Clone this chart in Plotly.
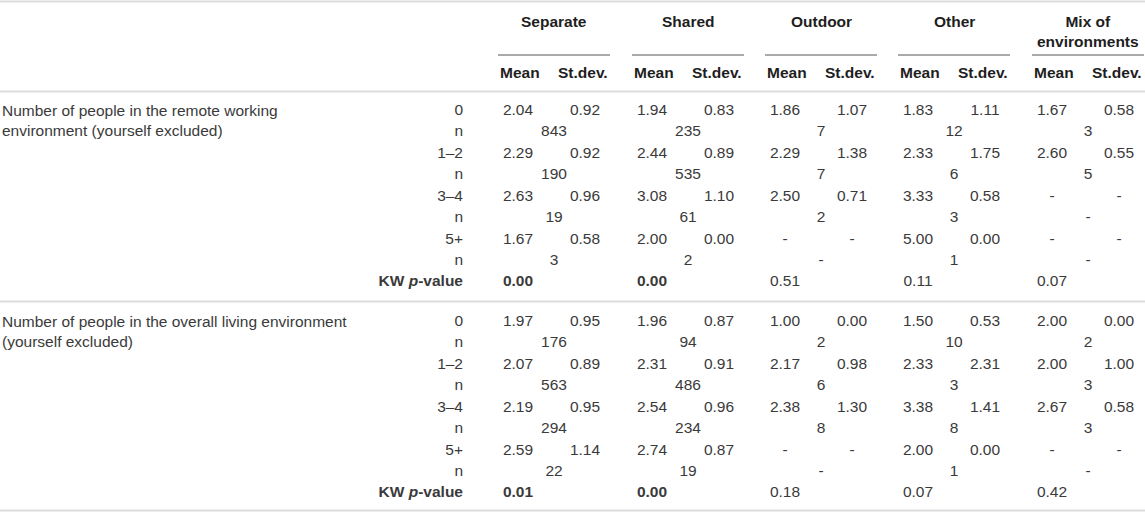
import plotly.graph_objects as go

# environments (column groups) and people-count levels
groups = ["Separate", "Shared", "Outdoor", "Other", "Mix of<br>environments"]
levels = ["0", "1–2", "3–4", "5+"]
blocks = [
    "Number of people in the remote working<br>environment (yourself excluded)",
    "Number of people in the overall living environment<br>(yourself excluded)",
]

# remote working environment
remote_mean = [[2.04, 2.29, 2.63, 1.67], [1.94, 2.44, 3.08, 2.00], [1.86, 2.29, 2.50, None],
               [1.83, 2.33, 3.33, 5.00], [1.67, 2.60, None, None]]
remote_sd = [[0.92, 0.92, 0.96, 0.58], [0.83, 0.89, 1.10, 0.00], [1.07, 1.38, 0.71, None],
             [1.11, 1.75, 0.58, 0.00], [0.58, 0.55, None, None]]
remote_n = [[843, 190, 19, 3], [235, 535, 61, 2], [7, 7, 2, None],
            [12, 6, 3, 1], [3, 5, None, None]]
remote_kw = [0.00, 0.00, 0.51, 0.11, 0.07]

# overall living environment
living_mean = [[1.97, 2.07, 2.19, 2.59], [1.96, 2.31, 2.54, 2.74], [1.00, 2.17, 2.38, None],
               [1.50, 2.33, 3.38, 2.00], [2.00, 2.00, 2.67, None]]
living_sd = [[0.95, 0.89, 0.95, 1.14], [0.87, 0.91, 0.96, 0.87], [0.00, 0.98, 1.30, None],
             [0.53, 2.31, 1.41, 0.00], [0.00, 1.00, 0.58, None]]
living_n = [[176, 563, 294, 22], [94, 486, 234, 19], [2, 6, 8, None],
            [10, 3, 8, 1], [2, 3, 3, None]]
living_kw = [0.01, 0.00, 0.18, 0.07, 0.42]

data = [(remote_mean, remote_sd, remote_n, remote_kw),
        (living_mean, living_sd, living_n, living_kw)]

# layout geometry (pixel-like axis units)
W, H = 1145, 513
grp_left = [498, 632, 765, 898, 1032]
grp_w = 112
mean_dx, sd_dx = 20, 87
label_x = 463
block_top = [111, 322]
row_h = 21.45

FONT = "Liberation Sans, Arial, sans-serif"
HEAD_C = "#1e1e1e"
BODY_C = "#3a3a3a"


def fmt(v):
    return "-" if v is None else f"{v:.2f}"


def fmtn(v):
    return "-" if v is None else str(v)


xs_c, ys_c, ts_c = [], [], []      # centered cells
xs_r, ys_r, ts_r = [], [], []      # right-aligned labels
xs_l, ys_l, ts_l = [], [], []      # left labels

for b, (mean, sd, n, kw) in enumerate(data):
    y0 = block_top[b]
    xs_l.append(2); ys_l.append(y0 + row_h / 2); ts_l.append(blocks[b])
    for i, lev in enumerate(levels):
        ym = y0 + 2 * i * row_h
        yn = ym + row_h
        xs_r += [label_x, label_x]; ys_r += [ym, yn]; ts_r += [lev, "n"]
        for g in range(len(groups)):
            xm = grp_left[g] + mean_dx
            xsd = grp_left[g] + sd_dx
            xs_c += [xm, xsd, grp_left[g] + grp_w / 2]
            ys_c += [ym, ym, yn]
            ts_c += [fmt(mean[g][i]), fmt(sd[g][i]), fmtn(n[g][i])]
    ykw = y0 + 8 * row_h
    xs_r.append(label_x); ys_r.append(ykw); ts_r.append("<b>KW <i>p</i>-value</b>")
    for g in range(len(groups)):
        t = f"{kw[g]:.2f}"
        if kw[g] < 0.05:
            t = f"<b>{t}</b>"
        xs_c.append(grp_left[g] + mean_dx); ys_c.append(ykw); ts_c.append(t)

fig = go.Figure()
body_font = dict(family=FONT, size=15.5, color=BODY_C)
fig.add_trace(go.Scatter(x=xs_c, y=ys_c, text=ts_c, mode="text",
                         textposition="middle center", textfont=body_font))
fig.add_trace(go.Scatter(x=xs_r, y=ys_r, text=ts_r, mode="text",
                         textposition="middle left", textfont=body_font))
fig.add_trace(go.Scatter(x=xs_l, y=ys_l, text=ts_l, mode="text",
                         textposition="middle right", textfont=body_font))

# header texts
head_font = dict(family=FONT, size=15.5, color=HEAD_C)
for g, name in enumerate(groups):
    cx = grp_left[g] + grp_w / 2
    fig.add_annotation(x=cx, y=11, text=f"<b>{name}</b>", showarrow=False,
                       xanchor="center", yanchor="top", font=head_font)
    fig.add_annotation(x=grp_left[g], y=72, text="<b>Mean</b>", showarrow=False,
                       xanchor="left", yanchor="middle", font=head_font)
    fig.add_annotation(x=grp_left[g] + grp_w, y=72, text="<b>St.dev.</b>", showarrow=False,
                       xanchor="right", yanchor="middle", font=head_font)
    fig.add_shape(type="line", x0=grp_left[g], x1=grp_left[g] + grp_w, y0=55, y1=55,
                  line=dict(color="#555555", width=1))

for yl in [1.5, 91.5, 301.5, 510.5]:
    fig.add_shape(type="line", x0=0, x1=W, y0=yl, y1=yl,
                  line=dict(color="#dcdcdc", width=2))

fig.update_layout(
    width=W, height=H, margin=dict(l=0, r=0, t=0, b=0),
    paper_bgcolor="white", plot_bgcolor="white", showlegend=False,
    xaxis=dict(range=[0, W], visible=False, fixedrange=True),
    yaxis=dict(range=[H, 0], visible=False, fixedrange=True),
)
fig.write_html("out.html", config={"displayModeBar": False},
               post_script="document.body.style.margin='0';document.body.style.overflow='hidden';")
